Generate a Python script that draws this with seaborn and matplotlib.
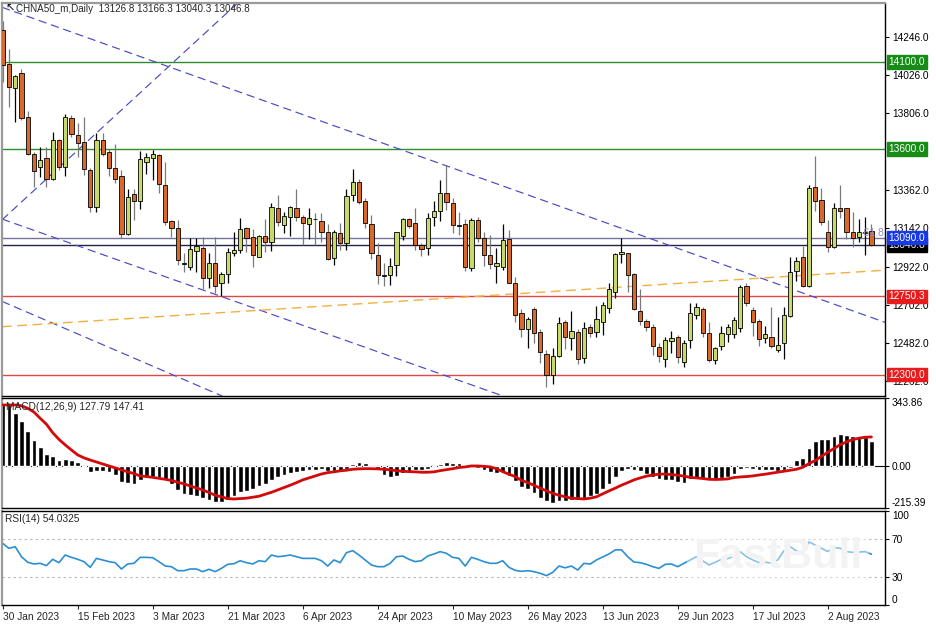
import numpy as np
import pandas as pd
import matplotlib
matplotlib.use("Agg")
import matplotlib.pyplot as plt
import matplotlib.transforms as mtransforms
import seaborn as sns

symbol_title = "CHNA50_m,Daily  13126.8 13166.3 13040.3 13046.8"
macd_title = "MACD(12,26,9) 127.79 147.41"
rsi_title = "RSI(14) 54.0325"
start_date = "2023-01-30"

opens = [14286, 14090, 13950, 14036, 13786, 13569, 13494, 13550, 13427, 13652,
         13498, 13777, 13681, 13642, 13477, 13268, 13652, 13585, 13488, 13444,
         13108, 13338, 13302, 13527, 13550, 13565, 13392, 13185, 13146, 12945,
         12922, 13014, 13027, 12858, 12941, 12825, 12877, 12998, 13017, 13142,
         13094, 12979, 13100, 13066, 13262, 13162, 13206, 13262, 13206, 13166,
         13198, 13185, 13123, 12973, 13118, 13060, 13333, 13410, 13300, 13166,
         12991, 12874, 12874, 12931, 13098, 13196, 13171, 13045, 13027, 13210,
         13243, 13344, 13287, 13162, 13166, 12916, 13191, 13085, 12987, 12925,
         12921, 13079, 12829, 12657, 12560, 12676, 12547, 12416, 12297, 12407,
         12601, 12508, 12547, 12393, 12572, 12547, 12604, 12681, 12777, 12995,
         12998, 12879, 12668, 12610, 12572, 12460, 12387, 12495, 12514, 12370,
         12499, 12643, 12676, 12537, 12384, 12464, 12533, 12533, 12566, 12810,
         12672, 12608, 12508, 12518, 12441, 12480, 12639, 12899, 12976, 12812,
         13383, 13306, 13123, 13037, 13262, 13258, 13123, 13091, 13118, 13126.8]
highs = [14340, 14175, 14027, 14059, 13819, 13585, 13613, 13613, 13696, 13660,
         13802, 13796, 13748, 13782, 13488, 13690, 13694, 13600, 13629, 13479,
         13367, 13367, 13590, 13575, 13594, 13570, 13527, 13191, 13191, 13000,
         13085, 13085, 13094, 13000, 13094, 12893, 13027, 13123, 13204, 13152,
         13141, 13104, 13198, 13287, 13333, 13237, 13273, 13367, 13218, 13258,
         13229, 13229, 13168, 13133, 13171, 13369, 13483, 13429, 13316, 13218,
         13060, 12941, 12973, 13123, 13204, 13200, 13258, 13060, 13233, 13302,
         13421, 13508, 13319, 13239, 13194, 13200, 13210, 13123, 13104, 13027,
         13166, 13133, 12864, 12676, 12633, 12687, 12560, 12441, 12451, 12633,
         12614, 12668, 12560, 12604, 12591, 12695, 12720, 12829, 13002, 13085,
         13002, 12887, 12791, 12618, 12591, 12480, 12518, 12551, 12528, 12499,
         12714, 12714, 12687, 12604, 12460, 12580, 12591, 12629, 12816, 12826,
         12691, 12618, 12580, 12687, 12633, 12691, 12979, 12979, 13041, 13393,
         13560, 13377, 13191, 13287, 13393, 13262, 13235, 13194, 13206, 13166.3]
lows = [13988, 13844, 13757, 13767, 13565, 13383, 13440, 13383, 13421, 13479,
        13446, 13671, 13556, 13450, 13235, 13239, 13561, 13446, 13402, 13089,
        13104, 13191, 13254, 13454, 13421, 13348, 13162, 13095, 12931, 12893,
        12902, 12893, 12791, 12797, 12771, 12752, 12829, 12983, 12998, 13008,
        12921, 12975, 13008, 13012, 13158, 13118, 13100, 13185, 13044, 13081,
        13044, 13064, 12960, 12931, 13018, 13018, 13300, 13283, 13143, 12964,
        12822, 12812, 12816, 12868, 13075, 13143, 13018, 12985, 12989, 13156,
        13185, 13248, 13114, 13104, 12898, 12896, 13066, 12927, 12906, 12829,
        12902, 12825, 12601, 12518, 12451, 12480, 12364, 12230, 12245, 12399,
        12445, 12441, 12359, 12368, 12514, 12514, 12528, 12656, 12739, 12941,
        12777, 12672, 12585, 12553, 12412, 12374, 12345, 12422, 12368, 12345,
        12451, 12620, 12518, 12370, 12359, 12441, 12489, 12508, 12543, 12697,
        12522, 12464, 12484, 12451, 12432, 12387, 12630, 12841, 12806, 12806,
        13245, 13162, 13004, 13031, 13200, 13079, 13033, 13066, 12989, 13040.3]
closes = [14084, 13955, 14021, 13777, 13571, 13475, 13537, 13427, 13652, 13498,
          13782, 13684, 13633, 13483, 13264, 13652, 13571, 13488, 13427, 13108,
          13321, 13302, 13540, 13556, 13571, 13396, 13177, 13146, 12960, 12935,
          13021, 13041, 12858, 12941, 12812, 12879, 13008, 13017, 13137, 13089,
          12989, 13100, 13062, 13267, 13181, 13216, 13264, 13210, 13171, 13200,
          13194, 13121, 12964, 13123, 13060, 13329, 13412, 13294, 13171, 12998,
          12874, 12870, 12927, 13120, 13196, 13156, 13047, 13021, 13204, 13241,
          13348, 13296, 13162, 13156, 12921, 13191, 13085, 12989, 12935, 12941,
          13075, 12829, 12641, 12560, 12618, 12537, 12428, 12297, 12407, 12595,
          12514, 12551, 12387, 12570, 12537, 12618, 12701, 12791, 12993, 13008,
          12874, 12676, 12610, 12572, 12464, 12407, 12499, 12508, 12403, 12480,
          12653, 12687, 12537, 12384, 12451, 12537, 12572, 12614, 12803, 12710,
          12601, 12503, 12532, 12466, 12470, 12643, 12889, 12956, 12812, 13377,
          13302, 13181, 13037, 13258, 13243, 13123, 13085, 13123, 13118, 13046.8]

macd_hist = [318, 315, 267, 229, 179, 132, 95, 59, 51, 30,
             34, 30, 20, -3, -30, -24, -24, -30, -46, -80,
             -85, -93, -74, -58, -58, -63, -74, -93, -122, -142,
             -147, -152, -164, -173, -183, -183, -173, -152, -135, -125,
             -118, -102, -91, -74, -58, -46, -34, -30, -24, -20,
             -20, -17, -24, -24, -24, -14, 10, 19, 17, -3,
             -20, -46, -54, -51, -37, -29, -20, -20, -17, -7,
             10, 20, 17, 17, 3, -2, -8, -19, -30, -36,
             -32, -49, -78, -107, -117, -137, -163, -179, -188, -179,
             -176, -171, -171, -168, -151, -141, -117, -91, -56, -24,
             -15, -19, -27, -39, -56, -66, -69, -73, -83, -86,
             -66, -61, -66, -66, -66, -61, -56, -39, -15, -12,
             -15, -19, -22, -22, -27, -19, -10, 32, 41, 91,
             125, 139, 137, 154, 163, 159, 151, 147, 146, 127.79]
macd_signal = [310, 310, 310, 306, 293, 274, 242, 212, 169, 135,
               107, 81, 56, 41, 30, 20, 10, 0, -10, -20,
               -30, -39, -51, -54, -58, -63, -68, -74, -83, -91,
               -102, -112, -122, -135, -149, -157, -166, -168, -166, -164,
               -159, -154, -144, -134, -122, -110, -98, -85, -71, -61,
               -51, -41, -34, -30, -25, -22, -17, -15, -14, -14,
               -15, -17, -20, -24, -27, -29, -30, -32, -32, -30,
               -24, -19, -14, -8, -5, 0, 0, -2, -5, -14,
               -29, -42, -54, -73, -85, -98, -113, -127, -139, -149,
               -157, -164, -166, -168, -164, -157, -142, -127, -113, -98,
               -85, -71, -61, -52, -46, -42, -41, -44, -47, -52,
               -58, -61, -64, -68, -69, -68, -66, -59, -56, -54,
               -51, -46, -42, -37, -32, -27, -22, -17, -7, 12,
               27, 49, 69, 88, 108, 122, 134, 141, 146, 147.41]
rsi_values = [65.7, 60.3, 62.1, 51.4, 45.4, 43.6, 44.3, 41.8, 48.6, 45.0,
              53.2, 50.7, 48.6, 46.1, 40.0, 49.6, 47.9, 46.1, 45.0, 38.2,
              43.6, 44.3, 50.7, 50.7, 50.3, 46.1, 41.4, 40.7, 36.4, 36.4,
              38.2, 38.2, 35.4, 37.9, 35.4, 38.9, 43.2, 43.9, 47.1, 45.0,
              43.6, 47.1, 46.1, 53.2, 51.4, 52.1, 53.2, 51.4, 49.6, 49.6,
              49.6, 47.1, 41.4, 47.9, 45.0, 55.7, 57.9, 53.2, 47.9, 42.5,
              40.7, 40.7, 44.3, 51.4, 52.1, 48.6, 46.1, 47.1, 52.1, 54.3,
              56.8, 55.0, 50.7, 49.6, 41.4, 50.7, 48.6, 46.1, 44.3, 44.3,
              47.1, 40.0, 36.8, 35.7, 36.4, 35.4, 33.6, 31.1, 34.6, 41.4,
              39.5, 41.4, 37.1, 44.3, 43.5, 47.9, 51.1, 54.3, 58.6, 58.8,
              51.4, 45.7, 45.0, 43.2, 40.7, 38.9, 43.2, 43.6, 40.7, 44.3,
              47.9, 51.4, 47.1, 42.5, 45.4, 48.6, 49.3, 52.1, 56.8, 51.4,
              47.9, 45.0, 45.4, 44.6, 47.9, 57.8, 62.1, 57.5, 55.5, 67.1,
              63.9, 60.5, 57.0, 61.1, 60.5, 56.8, 56.1, 56.4, 56.8, 54.03]

levels = [14100.0, 13600.0, 13046.8, 13090.0, 12750.3, 12300.0]
level_line_colors = ["#2e8b2e", "#2e8b2e", "#22224a", "#74749c", "#e04848", "#e04848"]
level_box_colors = ["#168c16", "#168c16", "#000000", "#1638e6", "#e81c1c", "#e81c1c"]

price_ticks = [14246.0, 14026.0, 13806.0, 13362.0, 13142.0, 12922.0, 12702.0, 12482.0, 12262.0]
macd_ticks = [343.86, 0.0, -215.39]
rsi_ticks = [100, 70, 30, 0]

# trend lines as (bar, price) anchor pairs
channel_lines = [((0, 14416), (140, 12616)),
                 ((0, 13195), (80, 12177)),
                 ((0, 12720), (35, 12178)),
                 ((0, 13195), (38, 14455))]
orange_line = ((0, 12576), (140, 12899))
fibo_label = (137.2, 13118, "-61.8")

bull_color = "#c8d96c"
bear_color = "#d8692c"

W, H = 936, 624


def frame(top, bottom, left=2, right=885):
    return [left / W, 1 - bottom / H, (right - left) / W, (bottom - top) / H]


def style_frame(axis):
    for side in ["right", "bottom", "top"]:
        axis.spines[side].set_color("black")
        axis.spines[side].set_linewidth(1.0)
    axis.spines["left"].set_color("#9a9a9a")
    axis.spines["left"].set_linewidth(1.6)
    axis.tick_params(axis="y", left=False, labelleft=False, right=True, labelright=True,
                     length=3, pad=2, labelsize=7.3, colors="black")
    axis.set_xlim(-0.112, 141.17)
    axis.set_xlabel("")
    axis.set_ylabel("")


sns.set_style("ticks")
plt.rcParams["font.family"] = ["Liberation Sans", "DejaVu Sans"]
plt.rcParams["font.size"] = 7.3

fig = plt.figure(figsize=(9.36, 6.24), dpi=100)
ax = fig.add_axes(frame(3, 396))
ax_macd = fig.add_axes(frame(398.3, 508.3))
ax_rsi = fig.add_axes(frame(511.3, 604.7))

x = np.arange(len(closes))
o = np.array(opens, dtype=float)
h = np.array(highs, dtype=float)
l = np.array(lows, dtype=float)
c = np.array(closes, dtype=float)
up = c >= o

# ---- price panel
for lvl, lc in zip(levels, level_line_colors):
    ax.axhline(lvl, color=lc, lw=1.0, zorder=1)
for p1, p2 in channel_lines:
    ax.axline(p1, p2, color="#4a4ac4", lw=0.85, dashes=(7, 4), zorder=1.5)
ax.axline(orange_line[0], orange_line[1], color="#f2b040", lw=1.0, dashes=(7, 4), zorder=1.5)

ax.vlines(x[up], l[up], h[up], color="black", lw=0.9, zorder=2)
ax.vlines(x[~up], l[~up], h[~up], color="#7a7a7a", lw=0.9, zorder=2)
body = np.maximum(np.abs(c - o), 4)
ax.bar(x, body, width=0.66, bottom=np.minimum(o, c),
       color=np.where(up, bull_color, bear_color), edgecolor="black", linewidth=0.6, zorder=3)

ax.text(fibo_label[0], fibo_label[1], fibo_label[2], color="#9090b8", fontsize=7.5,
        va="center", ha="left", clip_on=True, zorder=4)

ax.set_ylim(12176.3, 14441.9)
ax.set_yticks(price_ticks)
ax.set_yticklabels([f"{v:.1f}" for v in price_ticks])
ax.set_xticks([])
style_frame(ax)
ax.spines["top"].set_color("#9a9a9a")
ax.spines["top"].set_linewidth(1.6)

trans = mtransforms.blended_transform_factory(ax.transAxes, ax.transData)
for i, (lvl, bc) in enumerate(zip(levels, level_box_colors)):
    ax.text(1.004, lvl, f"{lvl:.1f}", transform=trans, ha="left", va="center",
            color="white", fontsize=7.3, clip_on=False, zorder=6 + i,
            bbox=dict(boxstyle="square,pad=0.18", fc=bc, ec=bc))

fig.text(5 / W, 1 - 9 / H, "\u2196", fontsize=8, va="center", ha="left", color="black",
         family="DejaVu Sans")
fig.text(16 / W, 1 - 9.5 / H, symbol_title, fontsize=7.1, va="center", ha="left")

# ---- MACD panel
ax_macd.bar(x, macd_hist, width=0.75, color="black", zorder=2)
ax_macd.axhline(0, color="black", lw=0.8, zorder=1)
sns.lineplot(x=x, y=macd_signal, ax=ax_macd, color="#d40a0a", lw=2.0, zorder=3)
ax_macd.set_ylim(-215.39, 343.86)
ax_macd.set_yticks(macd_ticks)
ax_macd.set_yticklabels(["343.86", "0.00", "-215.39"])
ax_macd.set_xticks([])
style_frame(ax_macd)
mlabels = ax_macd.get_yticklabels()
mlabels[0].set_va("top")
mlabels[2].set_va("bottom")
fig.text(6 / W, 1 - 406.5 / H, macd_title, fontsize=7.3, va="center", ha="left")

# ---- RSI panel
for lvl in [70, 30]:
    ax_rsi.axhline(lvl, color="#b4b4b4", lw=0.8, ls=(0, (2, 3)), zorder=1)
sns.lineplot(x=x, y=rsi_values, ax=ax_rsi, color="#2a8fd4", lw=1.2, zorder=2)
ax_rsi.text(124, 51, "FastBull", fontsize=31, fontweight="bold", color="#f3f3f3",
            ha="center", va="center", zorder=4,
            bbox=dict(boxstyle="square,pad=0.15", fc="white", ec="none", alpha=0.45))
ax_rsi.set_ylim(0, 100)
ax_rsi.set_yticks(rsi_ticks)
ax_rsi.set_yticklabels([str(v) for v in rsi_ticks])
style_frame(ax_rsi)
rlabels = ax_rsi.get_yticklabels()
rlabels[0].set_va("top")
rlabels[3].set_va("bottom")

dates = pd.bdate_range(start_date, periods=len(closes))
tick_pos = np.arange(0, len(dates), 12)
date_labels = [f"{d.day} {d.strftime('%b %Y')}" for d in dates[tick_pos]]
ax_rsi.set_xticks(tick_pos)
ax_rsi.set_xticklabels(date_labels, ha="left")
ax_rsi.tick_params(axis="x", length=3, pad=2, labelsize=7.3, bottom=True)
fig.text(5 / W, 1 - 519 / H, rsi_title, fontsize=7.3, va="center", ha="left")

fig.savefig("out.png", dpi=100, facecolor="white")
